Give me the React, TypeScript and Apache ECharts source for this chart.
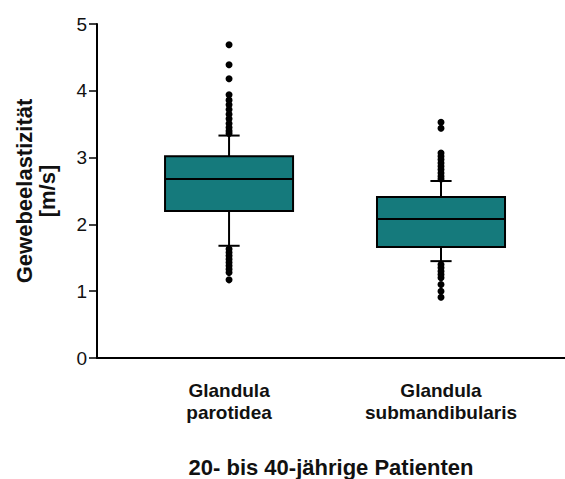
import React, { useEffect, useRef } from "react";
import * as echarts from "echarts";

const categories = ["Glandula\nparotidea", "Glandula\nsubmandibularis"];
const positions = [1, 2];
// [lower whisker, Q1, median, Q3, upper whisker]
const boxStats = [
  [1.68, 2.2, 2.68, 3.02, 3.33],
  [1.45, 1.66, 2.08, 2.41, 2.65],
];
const outliers1 = [4.69, 4.39, 4.18, 3.94, 3.86, 3.79, 3.72, 3.65, 3.58, 3.51, 3.45, 3.4, 3.36,
  1.63, 1.58, 1.53, 1.48, 1.43, 1.38, 1.33, 1.28, 1.17];
const outliers2 = [3.53, 3.44, 3.07, 3.02, 2.97, 2.92, 2.87, 2.82, 2.77, 2.72, 2.68,
  1.4, 1.35, 1.3, 1.25, 1.2, 1.1, 1.0, 0.91];
const yTicks = [0, 1, 2, 3, 4, 5];
const yName = "Gewebeelastizität\n[m/s]";
const xName = "20- bis 40-jährige Patienten";

export default function App() {
  const ref = useRef<HTMLDivElement>(null);
  useEffect(() => {
    const chart = echarts.init(ref.current!, null, { renderer: "svg" });
    const boxData = boxStats.map((s, i) => [positions[i], ...s]);
    const outlierData: number[][] = [];
    outliers1.forEach((v) => outlierData.push([positions[0], v]));
    outliers2.forEach((v) => outlierData.push([positions[1], v]));
    const font = "Arial, 'Liberation Sans', sans-serif";
    chart.setOption({
      animation: false,
      grid: { left: 97, right: 0, top: 24, bottom: 121, containLabel: false, outerBoundsMode: "none" },
      xAxis: {
        type: "value",
        min: 0.377,
        max: 2.585,
        splitLine: { show: false },
        axisLine: { show: true, lineStyle: { color: "#000", width: 2 } },
        axisTick: { show: false },
        axisLabel: {
          customValues: positions,
          formatter: (v: number) => {
            const i = positions.indexOf(Math.round(v));
            return i >= 0 ? categories[i] : "";
          },
          color: "#111",
          fontFamily: font,
          fontWeight: "bold",
          fontSize: 19,
          lineHeight: 22,
          margin: 21,
        },
        name: xName,
        nameLocation: "middle",
        nameGap: 98,
        nameTextStyle: { color: "#111", fontFamily: font, fontWeight: "bold", fontSize: 22 },
      },
      yAxis: {
        type: "value",
        min: yTicks[0],
        max: yTicks[yTicks.length - 1],
        interval: 1,
        splitLine: { show: false },
        axisLine: { show: true, lineStyle: { color: "#000", width: 2 } },
        axisTick: { show: true, length: 8, lineStyle: { color: "#000", width: 1.5 } },
        axisLabel: { color: "#111", fontFamily: font, fontSize: 19, margin: 10 },
        name: yName,
        nameLocation: "middle",
        nameRotate: 90,
        nameGap: 38,
        nameTextStyle: { color: "#111", fontFamily: font, fontWeight: "bold", fontSize: 22, lineHeight: 23 },
      },
      series: [
        {
          type: "custom",
          data: boxData,
          renderItem: (params: any, api: any) => {
            const x = api.value(0);
            const lo = api.value(1), q1 = api.value(2), med = api.value(3), q3 = api.value(4), hi = api.value(5);
            const hw = 0.302, cw = 0.05;
            const pTL = api.coord([x - hw, q3]);
            const pBR = api.coord([x + hw, q1]);
            const pMedL = api.coord([x - hw, med]);
            const pMedR = api.coord([x + hw, med]);
            const pc = api.coord([x, 0]);
            const pHi = api.coord([x, hi]);
            const pLo = api.coord([x, lo]);
            const pQ3 = api.coord([x, q3]);
            const pQ1 = api.coord([x, q1]);
            const cL = api.coord([x - cw, 0])[0];
            const cR = api.coord([x + cw, 0])[0];
            const ls = { stroke: "#000", lineWidth: 2 };
            return {
              type: "group",
              children: [
                { type: "line", shape: { x1: pc[0], y1: pHi[1], x2: pc[0], y2: pQ3[1] }, style: ls },
                { type: "line", shape: { x1: pc[0], y1: pQ1[1], x2: pc[0], y2: pLo[1] }, style: ls },
                { type: "line", shape: { x1: cL, y1: pHi[1], x2: cR, y2: pHi[1] }, style: ls },
                { type: "line", shape: { x1: cL, y1: pLo[1], x2: cR, y2: pLo[1] }, style: ls },
                {
                  type: "rect",
                  shape: { x: pTL[0], y: pTL[1], width: pBR[0] - pTL[0], height: pBR[1] - pTL[1] },
                  style: { fill: "#157a7c", stroke: "#000", lineWidth: 2 },
                },
                { type: "line", shape: { x1: pMedL[0], y1: pMedL[1], x2: pMedR[0], y2: pMedR[1] }, style: ls },
              ],
            };
          },
        },
        {
          type: "scatter",
          data: outlierData,
          symbol: "circle",
          symbolSize: 7,
          itemStyle: { color: "#000", opacity: 1 },
        },
      ],
    });
    return () => chart.dispose();
  }, []);
  return <div ref={ref} style={{ position: "absolute", left: 0, top: 0, width: 565, height: 479 }} />;
}
